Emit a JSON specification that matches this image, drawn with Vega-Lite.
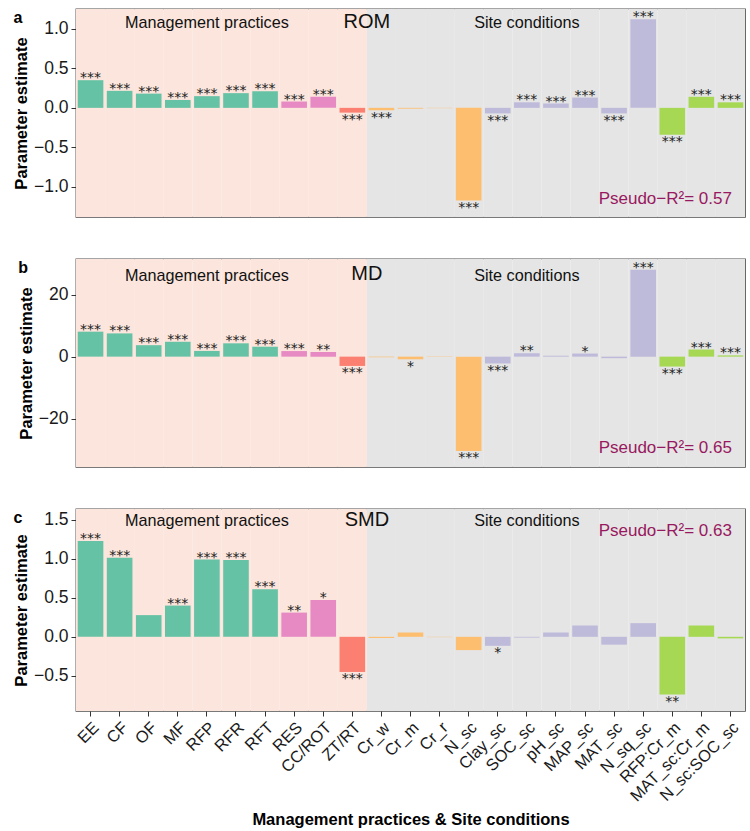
{
  "$schema": "https://vega.github.io/schema/vega-lite/v6.json",
  "padding": {"left": 12, "top": 8, "right": 4, "bottom": 4},
  "config": {
    "font": "Liberation Sans",
    "view": {"stroke": "#4d4d4d", "strokeWidth": 1.3},
    "axis": {"grid": false, "domain": false, "tickColor": "#333333", "tickSize": 5, "labelColor": "#1a1a1a", "labelFontSize": 17.5, "labelPadding": 3, "titleFontSize": 16.5, "titleFontWeight": "bold", "titleColor": "#000000"},
    "title": {"anchor": "start", "frame": "bounds", "fontSize": 16, "fontWeight": "bold", "baseline": "alphabetic", "color": "#000000"}
  },
  "datasets": {
    "est": [
      {"v": "EE", "cls": "A", "rom": 0.35, "rs": "***", "md": 8.06, "ms": "***", "smd": 1.227, "ss": "***"},
      {"v": "CF", "cls": "A", "rom": 0.215, "rs": "***", "md": 7.5, "ms": "***", "smd": 1.013, "ss": "***"},
      {"v": "OF", "cls": "A", "rom": 0.18, "rs": "***", "md": 3.7, "ms": "***", "smd": 0.278, "ss": ""},
      {"v": "MF", "cls": "A", "rom": 0.1, "rs": "***", "md": 4.8, "ms": "***", "smd": 0.4, "ss": "***"},
      {"v": "RFP", "cls": "A", "rom": 0.148, "rs": "***", "md": 1.84, "ms": "***", "smd": 0.99, "ss": "***"},
      {"v": "RFR", "cls": "A", "rom": 0.186, "rs": "***", "md": 4.3, "ms": "***", "smd": 0.985, "ss": "***"},
      {"v": "RFT", "cls": "A", "rom": 0.21, "rs": "***", "md": 3.2, "ms": "***", "smd": 0.61, "ss": "***"},
      {"v": "RES", "cls": "B", "rom": 0.08, "rs": "***", "md": 1.8, "ms": "***", "smd": 0.31, "ss": "**"},
      {"v": "CC/ROT", "cls": "B", "rom": 0.14, "rs": "***", "md": 1.5, "ms": "**", "smd": 0.47, "ss": "*"},
      {"v": "ZT/RT", "cls": "C", "rom": -0.06, "rs": "***", "md": -3.0, "ms": "***", "smd": -0.45, "ss": "***"},
      {"v": "Cr_w", "cls": "D", "rom": -0.03, "rs": "***", "md": -0.2, "ms": "", "smd": -0.015, "ss": ""},
      {"v": "Cr_m", "cls": "D", "rom": -0.01, "rs": "", "md": -0.85, "ms": "*", "smd": 0.055, "ss": ""},
      {"v": "Cr_r", "cls": "D", "rom": -0.004, "rs": "", "md": -0.1, "ms": "", "smd": -0.004, "ss": ""},
      {"v": "N_sc", "cls": "D", "rom": -1.17, "rs": "***", "md": -30.4, "ms": "***", "smd": -0.17, "ss": ""},
      {"v": "Clay_sc", "cls": "E", "rom": -0.07, "rs": "***", "md": -2.2, "ms": "***", "smd": -0.115, "ss": "*"},
      {"v": "SOC_sc", "cls": "E", "rom": 0.07, "rs": "***", "md": 1.1, "ms": "**", "smd": -0.01, "ss": ""},
      {"v": "pH_sc", "cls": "E", "rom": 0.055, "rs": "***", "md": 0.3, "ms": "", "smd": 0.055, "ss": ""},
      {"v": "MAP_sc", "cls": "E", "rom": 0.13, "rs": "***", "md": 1.0, "ms": "*", "smd": 0.145, "ss": ""},
      {"v": "MAT_sc", "cls": "E", "rom": -0.07, "rs": "***", "md": -0.5, "ms": "", "smd": -0.1, "ss": ""},
      {"v": "N_sq_sc", "cls": "E", "rom": 1.12, "rs": "***", "md": 28.0, "ms": "***", "smd": 0.175, "ss": ""},
      {"v": "RFP:Cr_m", "cls": "F", "rom": -0.34, "rs": "***", "md": -3.2, "ms": "***", "smd": -0.74, "ss": "**"},
      {"v": "MAT_sc:Cr_m", "cls": "F", "rom": 0.14, "rs": "***", "md": 2.3, "ms": "***", "smd": 0.145, "ss": ""},
      {"v": "N_sc:SOC_sc", "cls": "F", "rom": 0.07, "rs": "***", "md": 0.4, "ms": "***", "smd": -0.02, "ss": ""}
    ]
  },
  "spacing": 40,
  "vconcat": [
    {
      "width": 669, "height": 208,
      "title": {"text": "a", "offset": -17},
      "data": {"name": "est"},
      "encoding": {"x": {"field": "v", "type": "nominal", "sort": null, "scale": {"domain": ["EE","CF","OF","MF","RFP","RFR","RFT","RES","CC/ROT","ZT/RT","Cr_w","Cr_m","Cr_r","N_sc","Clay_sc","SOC_sc","pH_sc","MAP_sc","MAT_sc","N_sq_sc","RFP:Cr_m","MAT_sc:Cr_m","N_sc:SOC_sc"], "paddingInner": 0, "paddingOuter": 0}, "axis": null}},
      "layer": [
        {"mark": {"type": "bar"}, "encoding": {
          "y": {"datum": 1.25, "type": "quantitative", "scale": {"domain": [-1.38, 1.25], "nice": false, "zero": false}, "axis": {"title": "Parameter estimate", "values": [-1, -0.5, 0, 0.5, 1], "format": ".1f"}},
          "y2": {"datum": -1.38},
          "color": {"condition": {"test": "datum.cls=='A'||datum.cls=='B'||datum.cls=='C'", "value": "#fbe5dc"}, "value": "#e5e5e5"}}},
        {"mark": {"type": "bar", "width": {"band": 0.88}}, "encoding": {
          "y": {"field": "rom", "type": "quantitative"}, "y2": {"datum": 0},
          "color": {"field": "cls", "type": "nominal", "scale": {"domain": ["A","B","C","D","E","F"], "range": ["#66c2a5","#e78ac3","#fb8072","#fdbf6f","#bebada","#a6d854"]}, "legend": null}}},
        {"transform": [{"filter": "datum.rom > 0 && datum.rs != ''"}], "mark": {"type": "text", "font": "DejaVu Sans", "fontSize": 14, "color": "#222222", "baseline": "alphabetic", "dy": 2}, "encoding": {"y": {"field": "rom", "type": "quantitative"}, "text": {"field": "rs"}}},
        {"transform": [{"filter": "datum.rom < 0 && datum.rs != ''"}], "mark": {"type": "text", "font": "DejaVu Sans", "fontSize": 14, "color": "#222222", "baseline": "alphabetic", "dy": 11.4}, "encoding": {"y": {"field": "rom", "type": "quantitative"}, "text": {"field": "rs"}}},
        {"data": {"values": [{}]}, "mark": {"type": "text", "text": "Management practices", "fontSize": 16.2, "color": "#111111"}, "encoding": {"x": {"datum": "RFP"}, "y": {"datum": 1.067}}},
        {"data": {"values": [{}]}, "mark": {"type": "text", "text": "Site conditions", "fontSize": 16.2, "color": "#111111"}, "encoding": {"x": {"datum": "SOC_sc"}, "y": {"datum": 1.067}}},
        {"data": {"values": [{}]}, "mark": {"type": "text", "text": "ROM", "fontSize": 20, "color": "#111111"}, "encoding": {"x": {"datum": "Cr_w", "bandPosition": 0}, "y": {"datum": 1.09}}},
        {"data": {"values": [{}]}, "mark": {"type": "text", "text": "Pseudo−R²= 0.57", "fontSize": 17, "align": "right", "color": "#98195f"}, "encoding": {"x": {"datum": "N_sc:SOC_sc", "bandPosition": 0.55}, "y": {"datum": -1.148}}}
      ]
    },
    {
      "width": 669, "height": 208,
      "title": {"text": "b", "offset": -17},
      "data": {"name": "est"},
      "encoding": {"x": {"field": "v", "type": "nominal", "sort": null, "scale": {"domain": ["EE","CF","OF","MF","RFP","RFR","RFT","RES","CC/ROT","ZT/RT","Cr_w","Cr_m","Cr_r","N_sc","Clay_sc","SOC_sc","pH_sc","MAP_sc","MAT_sc","N_sq_sc","RFP:Cr_m","MAT_sc:Cr_m","N_sc:SOC_sc"], "paddingInner": 0, "paddingOuter": 0}, "axis": null}},
      "layer": [
        {"mark": {"type": "bar"}, "encoding": {
          "y": {"datum": 31.5, "type": "quantitative", "scale": {"domain": [-35.6, 31.5], "nice": false, "zero": false}, "axis": {"title": "Parameter estimate", "values": [-20, 0, 20], "format": "d"}},
          "y2": {"datum": -35.6},
          "color": {"condition": {"test": "datum.cls=='A'||datum.cls=='B'||datum.cls=='C'", "value": "#fbe5dc"}, "value": "#e5e5e5"}}},
        {"mark": {"type": "bar", "width": {"band": 0.88}}, "encoding": {
          "y": {"field": "md", "type": "quantitative"}, "y2": {"datum": 0},
          "color": {"field": "cls", "type": "nominal", "scale": {"domain": ["A","B","C","D","E","F"], "range": ["#66c2a5","#e78ac3","#fb8072","#fdbf6f","#bebada","#a6d854"]}, "legend": null}}},
        {"transform": [{"filter": "datum.md > 0 && datum.ms != ''"}], "mark": {"type": "text", "font": "DejaVu Sans", "fontSize": 14, "color": "#222222", "baseline": "alphabetic", "dy": 2}, "encoding": {"y": {"field": "md", "type": "quantitative"}, "text": {"field": "ms"}}},
        {"transform": [{"filter": "datum.md < 0 && datum.ms != ''"}], "mark": {"type": "text", "font": "DejaVu Sans", "fontSize": 14, "color": "#222222", "baseline": "alphabetic", "dy": 11.4}, "encoding": {"y": {"field": "md", "type": "quantitative"}, "text": {"field": "ms"}}},
        {"data": {"values": [{}]}, "mark": {"type": "text", "text": "Management practices", "fontSize": 16.2, "color": "#111111"}, "encoding": {"x": {"datum": "RFP"}, "y": {"datum": 26.0}}},
        {"data": {"values": [{}]}, "mark": {"type": "text", "text": "Site conditions", "fontSize": 16.2, "color": "#111111"}, "encoding": {"x": {"datum": "SOC_sc"}, "y": {"datum": 26.0}}},
        {"data": {"values": [{}]}, "mark": {"type": "text", "text": "MD", "fontSize": 20, "color": "#111111"}, "encoding": {"x": {"datum": "Cr_w", "bandPosition": 0}, "y": {"datum": 26.8}}},
        {"data": {"values": [{}]}, "mark": {"type": "text", "text": "Pseudo−R²= 0.65", "fontSize": 17, "align": "right", "color": "#98195f"}, "encoding": {"x": {"datum": "N_sc:SOC_sc", "bandPosition": 0.55}, "y": {"datum": -29.4}}}
      ]
    },
    {
      "width": 669, "height": 202,
      "title": {"text": "c", "offset": -17},
      "data": {"name": "est"},
      "encoding": {"x": {"field": "v", "type": "nominal", "sort": null, "scale": {"domain": ["EE","CF","OF","MF","RFP","RFR","RFT","RES","CC/ROT","ZT/RT","Cr_w","Cr_m","Cr_r","N_sc","Clay_sc","SOC_sc","pH_sc","MAP_sc","MAT_sc","N_sq_sc","RFP:Cr_m","MAT_sc:Cr_m","N_sc:SOC_sc"], "paddingInner": 0, "paddingOuter": 0}, "axis": {"title": "Management practices & Site conditions", "labelAngle": -45, "labelFontSize": 16.5, "titlePadding": 7}}},
      "layer": [
        {"mark": {"type": "bar"}, "encoding": {
          "y": {"datum": 1.637, "type": "quantitative", "scale": {"domain": [-0.95, 1.637], "nice": false, "zero": false}, "axis": {"title": "Parameter estimate", "values": [-0.5, 0, 0.5, 1, 1.5], "format": ".1f"}},
          "y2": {"datum": -0.95},
          "color": {"condition": {"test": "datum.cls=='A'||datum.cls=='B'||datum.cls=='C'", "value": "#fbe5dc"}, "value": "#e5e5e5"}}},
        {"mark": {"type": "bar", "width": {"band": 0.88}}, "encoding": {
          "y": {"field": "smd", "type": "quantitative"}, "y2": {"datum": 0},
          "color": {"field": "cls", "type": "nominal", "scale": {"domain": ["A","B","C","D","E","F"], "range": ["#66c2a5","#e78ac3","#fb8072","#fdbf6f","#bebada","#a6d854"]}, "legend": null}}},
        {"transform": [{"filter": "datum.smd > 0 && datum.ss != ''"}], "mark": {"type": "text", "font": "DejaVu Sans", "fontSize": 14, "color": "#222222", "baseline": "alphabetic", "dy": 2}, "encoding": {"y": {"field": "smd", "type": "quantitative"}, "text": {"field": "ss"}}},
        {"transform": [{"filter": "datum.smd < 0 && datum.ss != ''"}], "mark": {"type": "text", "font": "DejaVu Sans", "fontSize": 14, "color": "#222222", "baseline": "alphabetic", "dy": 11.4}, "encoding": {"y": {"field": "smd", "type": "quantitative"}, "text": {"field": "ss"}}},
        {"data": {"values": [{}]}, "mark": {"type": "text", "text": "Management practices", "fontSize": 16.2, "color": "#111111"}, "encoding": {"x": {"datum": "RFP"}, "y": {"datum": 1.483}}},
        {"data": {"values": [{}]}, "mark": {"type": "text", "text": "Site conditions", "fontSize": 16.2, "color": "#111111"}, "encoding": {"x": {"datum": "SOC_sc"}, "y": {"datum": 1.483}}},
        {"data": {"values": [{}]}, "mark": {"type": "text", "text": "SMD", "fontSize": 20, "color": "#111111"}, "encoding": {"x": {"datum": "Cr_w", "bandPosition": 0}, "y": {"datum": 1.496}}},
        {"data": {"values": [{}]}, "mark": {"type": "text", "text": "Pseudo−R²= 0.63", "fontSize": 17, "align": "right", "color": "#98195f"}, "encoding": {"x": {"datum": "N_sc:SOC_sc", "bandPosition": 0.55}, "y": {"datum": 1.355}}}
      ]
    }
  ]
}
